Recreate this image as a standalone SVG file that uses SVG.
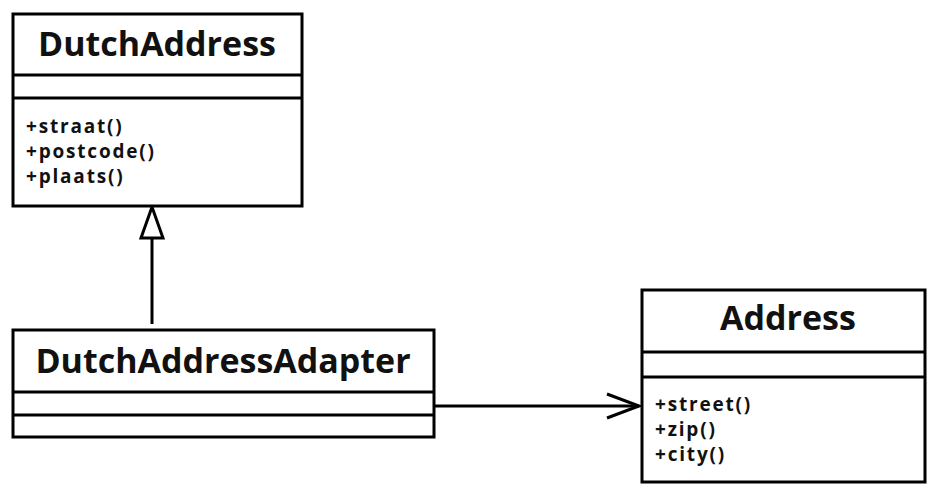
<svg xmlns="http://www.w3.org/2000/svg" width="935" height="501" viewBox="0 0 935 501">
<style>
.box{fill:#fff;stroke:#000;stroke-width:3}
.div{stroke:#000;stroke-width:3}
.title{font-family:"Open Sans","Liberation Sans",sans-serif;font-weight:bold;font-size:34px;fill:#111;text-anchor:middle}
.m{font-family:"Open Sans","Liberation Sans",sans-serif;font-weight:bold;font-size:19px;letter-spacing:1.8px;fill:#111}
.c{stroke:#000;stroke-width:3;fill:none}
</style>
<rect width="935" height="501" fill="#fff"/>
<g id="connectors">
<line class="c" x1="152" y1="238" x2="152" y2="324"/>
<polygon points="152,207 141,238 163,238" fill="#fff" stroke="#000" stroke-width="3"/>
<line class="c" x1="435" y1="406" x2="639" y2="406"/>
<path class="c" d="M607,394 L639,406 L607,418"/>
</g>
<g id="DutchAddress">
<rect class="box" x="13" y="14" width="289" height="192"/>
<line class="div" x1="13" y1="75" x2="302" y2="75"/>
<line class="div" x1="13" y1="98" x2="302" y2="98"/>
<text class="title" x="157" y="56">DutchAddress</text>
<text class="m" x="26" y="133">+straat()</text>
<text class="m" x="26" y="158">+postcode()</text>
<text class="m" x="26" y="183">+plaats()</text>
</g>
<g id="DutchAddressAdapter">
<rect class="box" x="13" y="330" width="421" height="107"/>
<line class="div" x1="13" y1="392" x2="434" y2="392"/>
<line class="div" x1="13" y1="415" x2="434" y2="415"/>
<text class="title" x="223" y="373">DutchAddressAdapter</text>
</g>
<g id="Address">
<rect class="box" x="642" y="290" width="283" height="192"/>
<line class="div" x1="642" y1="352" x2="925" y2="352"/>
<line class="div" x1="642" y1="377" x2="925" y2="377"/>
<text class="title" x="788" y="330">Address</text>
<text class="m" x="655" y="411">+street()</text>
<text class="m" x="655" y="436">+zip()</text>
<text class="m" x="655" y="461">+city()</text>
</g>
</svg>
